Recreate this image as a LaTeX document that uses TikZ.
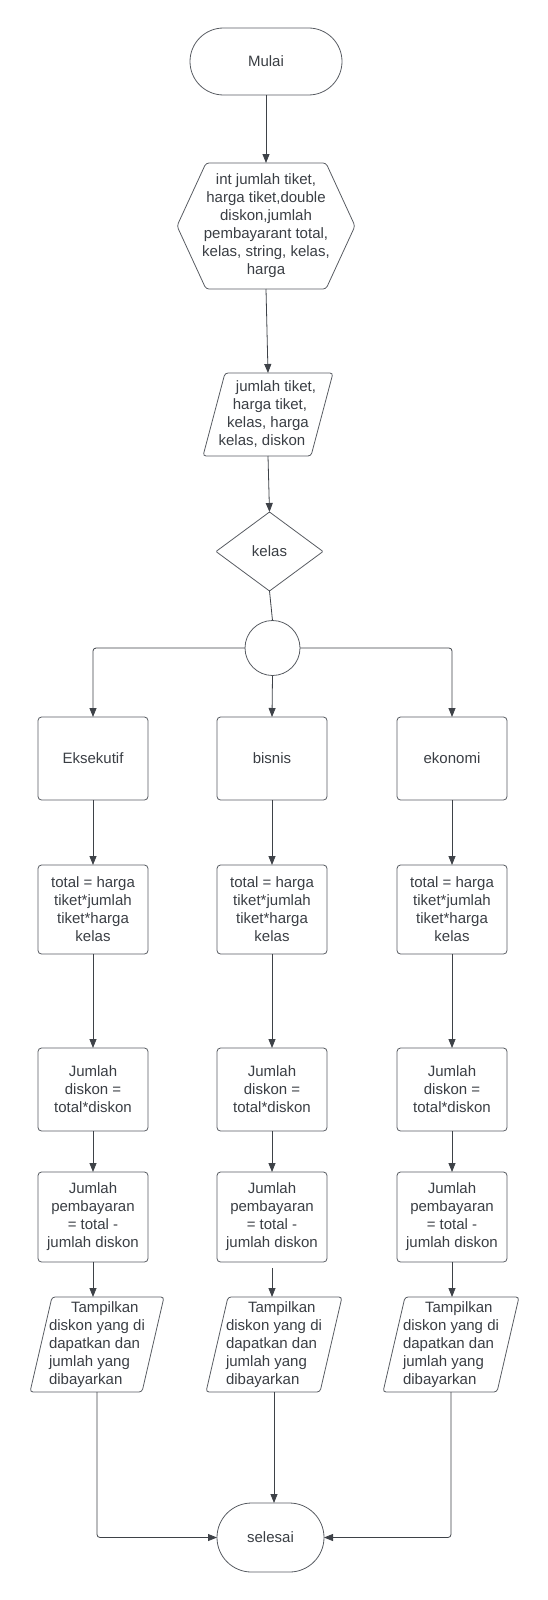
\documentclass[tikz,border=0pt]{standalone}
\usepackage{fontspec}
\setmainfont{Liberation Sans}
\usetikzlibrary{arrows.meta,shapes.misc,calc}
\definecolor{linec}{RGB}{88,92,98}
\definecolor{arrc}{RGB}{62,66,72}
\definecolor{txtc}{RGB}{58,62,68}
\begin{document}
\begin{tikzpicture}[x=1pt,y=-1pt,
  txt/.style={font=\fontsize{15}{18}\selectfont, text=txtc, align=center, inner sep=0pt, outer sep=0pt},
  box/.style={txt, draw=linec, line width=0.8pt, rounded corners=3.5pt, minimum width=110pt},
  term/.style={txt, draw=linec, line width=0.8pt, rounded rectangle},
  shp/.style={draw=linec, line width=0.8pt, rounded corners=3pt},
  arr/.style={draw=arrc, line width=0.8pt, rounded corners=3pt, -{Triangle[length=9pt,width=7pt]}},
  ln/.style={draw=arrc, line width=0.8pt}]
\useasboundingbox (0,0) rectangle (548,1600);

% top part
\node[term, minimum width=152pt, minimum height=67pt] (start) at (266,61.5) {Mulai};
\node[txt, minimum width=178pt, minimum height=126pt] (decl) at (266,226)
  {int jumlah tiket,\\harga tiket,double\\diskon,jumlah\\pembayarant total,\\kelas, string, kelas,\\harga};
\draw[shp] (decl.west) -- ($(decl.north west)+(29,0)$) -- ($(decl.north east)+(-29,0)$) -- (decl.east)
  -- ($(decl.south east)+(-29,0)$) -- ($(decl.south west)+(29,0)$) -- cycle;

\node[txt, minimum width=130pt, minimum height=83pt] (inp) at (268,414.5)
  {\hspace*{16pt}jumlah tiket,\\\hspace*{4pt}harga tiket,\\kelas, harga\\\hspace*{-12pt}kelas, diskon};
\draw[shp] ($(inp.north west)+(22,0)$) -- (inp.north east) -- ($(inp.south east)+(-22,0)$) -- (inp.south west) -- cycle;

\node[txt, minimum width=107pt, minimum height=79pt] (kel) at (269.5,551.5) {kelas};
\draw[shp, rounded corners=1pt] (kel.north) -- (kel.east) -- (kel.south) -- (kel.west) -- cycle;

\node[draw=linec, line width=0.8pt, circle, minimum size=55pt, inner sep=0pt, outer sep=0pt] (jn) at (272.5,648) {};

% row 1
\node[box, minimum height=83pt] (e1) at (93,758.5) {Eksekutif};
\node[box, minimum height=83pt] (b1) at (272,758.5) {bisnis};
\node[box, minimum height=83pt] (k1) at (452,758.5) {ekonomi};
% row 2
\node[box, minimum height=89pt] (e2) at (93,909.5) {total = harga\\tiket*jumlah\\tiket*harga\\kelas};
\node[box, minimum height=89pt] (b2) at (272,909.5) {total = harga\\tiket*jumlah\\tiket*harga\\kelas};
\node[box, minimum height=89pt] (k2) at (452,909.5) {total = harga\\tiket*jumlah\\tiket*harga\\kelas};
% row 3
\node[box, minimum height=83pt] (e3) at (93,1089.5) {Jumlah\\diskon =\\total*diskon};
\node[box, minimum height=83pt] (b3) at (272,1089.5) {Jumlah\\diskon =\\total*diskon};
\node[box, minimum height=83pt] (k3) at (452,1089.5) {Jumlah\\diskon =\\total*diskon};
% row 4
\node[box, minimum height=90pt] (e4) at (93,1217) {Jumlah\\pembayaran\\= total -\\jumlah diskon};
\node[box, minimum height=90pt] (b4) at (272,1217) {Jumlah\\pembayaran\\= total -\\jumlah diskon};
\node[box, minimum height=90pt] (k4) at (452,1217) {Jumlah\\pembayaran\\= total -\\jumlah diskon};
% row 5 (outputs)
\node[txt, align=left, minimum width=134pt, minimum height=95pt] (e5) at (97,1344.5)
  {\hspace*{22pt}Tampilkan\\diskon yang di\\dapatkan dan\\jumlah yang\\dibayarkan};
\node[txt, align=left, minimum width=136pt, minimum height=95pt] (b5) at (274,1344.5)
  {\hspace*{22pt}Tampilkan\\diskon yang di\\dapatkan dan\\jumlah yang\\dibayarkan};
\node[txt, align=left, minimum width=136pt, minimum height=95pt] (k5) at (451,1344.5)
  {\hspace*{22pt}Tampilkan\\diskon yang di\\dapatkan dan\\jumlah yang\\dibayarkan};
\foreach \p in {e5,b5,k5}{
  \draw[shp] ($(\p.north west)+(22,0)$) -- (\p.north east) -- ($(\p.south east)+(-22,0)$) -- (\p.south west) -- cycle;
}

\node[term, minimum width=107pt, minimum height=69pt] (end) at (270.5,1537.5) {selesai};

% connectors
\draw[arr] (start.south) -- (decl.north);
\draw[arr] (decl.south) -- (inp.north);
\draw[arr] (inp.south) -- (kel.north);
\draw[ln] (kel.south) -- (jn.north);
\draw[arr] (jn.west) -| (e1.north);
\draw[arr] (jn.south) -- (b1.north);
\draw[arr] (jn.east) -| (k1.north);
\foreach \c in {e,b,k}{
  \draw[arr] (\c1.south) -- (\c2.north);
  \draw[arr] (\c2.south) -- (\c3.north);
  \draw[arr] (\c3.south) -- (\c4.north);
}
\draw[arr] (e4.south) -- (e4.south |- e5.north);
\draw[arr, shorten <=6pt] (b4.south) -- (b4.south |- b5.north);
\draw[arr] (k4.south) -- (k4.south |- k5.north);
\draw[arr] (e5.south) |- (end.west);
\draw[arr] (b5.south) -- (b5.south |- end.north);
\draw[arr] (k5.south) |- (end.east);
\end{tikzpicture}
\end{document}
